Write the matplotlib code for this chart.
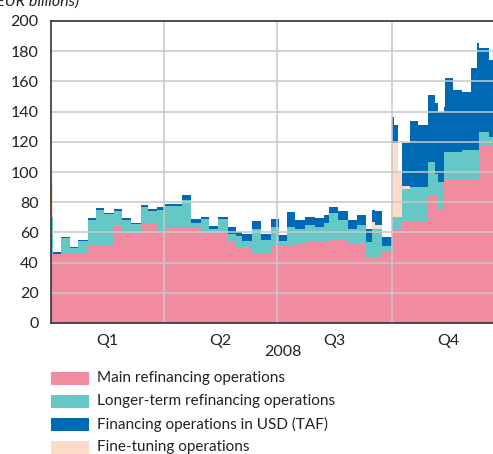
import matplotlib
matplotlib.use("Agg")
import matplotlib.pyplot as plt
from matplotlib.patches import Rectangle
import numpy as np

plt.rcParams["font.family"] = ["Lato", "DejaVu Sans"]

# step changes: day of 2008 (0 = 1 Jan) and outstanding amounts, EUR billions
day = [0, 2, 8, 15, 22, 30, 36, 43, 51, 57, 64, 72, 78, 85, 92, 105, 113, 121,
       127, 134, 142, 149, 154, 162, 169, 177, 183, 190, 196, 204, 212, 220,
       224, 231, 239, 246, 253, 258, 261, 266, 274, 276, 279, 282, 289, 295,
       303, 309, 311, 316, 317, 323, 331, 338, 343, 344, 352]
mro = [46, 45.5, 46, 46, 46, 51, 51, 51, 65, 59.5, 59.5, 65.5, 65.5, 60, 63, 63,
       63, 60, 60, 60, 54, 49.4, 49.4, 46.6, 46.6, 51.7, 51.7, 51.7, 53, 53.6,
       54, 54.5, 55, 55, 53, 53, 44, 44, 44, 47, 62, 62, 62, 67, 67, 67, 84.8,
       84.8, 74.8, 94.7, 94.7, 94.7, 94.7, 94.7, 94.7, 118, 118]
ltro = [24, 0, 10, 3.5, 8, 17.5, 24, 21, 9.5, 9, 6, 11.5, 9, 15, 14.5, 18.5,
        3.5, 9, 2, 8.7, 5, 8, 4.6, 15.4, 8.4, 12, 2.3, 12, 9, 11.3, 9.8, 11.5,
        17.6, 13, 9, 12, 9.6, 18, 18, 4, 8.4, 8.4, 8.4, 22, 23, 23, 22, 14,
        18.8, 18.3, 18.3, 18.3, 20, 20, 20, 8.7, 5.4]
fto = [23, 0, 0, 0, 0, 0, 0, 0, 0, 0, 0, 0, 0, 0, 0, 0, 0, 0, 0, 0, 0, 0, 0, 0,
       0, 0, 0, 0, 0, 0, 0, 0, 0, 0, 0, 0, 0, 5, 3, 0, 48.6, 48.6, 29.6, 2, 0,
       0, 0, 0, 0, 0, 0, 0, 0, 0, 0, 0, 0]
usd = [0, 1.5, 1, 1, 1, 1, 1, 1, 1, 1, 1, 1, 1, 1.5, 1.5, 3.5, 2.2, 1.4, 2,
       1.7, 4.8, 3, 5, 5.8, 4, 5.5, 4.3, 9.5, 6.2, 5.5, 5.5, 5.5, 4.4, 6, 6,
       6.5, 8.5, 8, 9, 6, 17.6, 12, 0, 28, 44, 41, 44.2, 46.8, 46.4, 30, 49, 41,
       38.3, 54, 71, 55.3, 50.6]

quarters = ["Q1", "Q2", "Q3", "Q4"]
quarter_start = [0, 91, 182, 274, 366]
series = [("Main refinancing operations", mro, "#F08BA0"),
          ("Longer-term refinancing operations", ltro, "#65C8C6"),
          ("Fine-tuning operations", fto, "#FCDCC8"),
          ("Financing operations in USD (TAF)", usd, "#0069B4")]
legend_order = [0, 1, 3, 2]

fig = plt.figure(figsize=(4.93, 4.54), dpi=100)
ax = fig.add_axes([51 / 493, 131 / 454, 455 / 493, 302 / 454])

x = np.array(day + [366])
lower = np.zeros(len(x))
for name, vals, col in series:
    v = np.array(vals + [vals[-1]], dtype=float)
    ax.fill_between(x, lower, lower + v, step="post", color=col, lw=0, zorder=1)
    lower = lower + v

ax.set_xlim(0, 366)
ax.set_ylim(0, 200)
ax.set_yticks(range(0, 201, 20))
ax.set_yticklabels([str(t) for t in range(0, 201, 20)], fontsize=11.5, color="#222222")
mids = [(a + b) / 2 for a, b in zip(quarter_start[:-1], quarter_start[1:])]
ax.set_xticks(mids)
ax.set_xticklabels(quarters, fontsize=11.5, color="#222222")
ax.tick_params(length=0, pad=8)
ax.tick_params(axis="y", pad=9)

for t in range(20, 201, 20):
    ax.axhline(t, color="#c8c8c8", lw=1.3, alpha=0.85, zorder=2)
for q in quarter_start[1:4]:
    ax.axvline(q, color="#c8c8c8", lw=1.3, alpha=0.85, zorder=2)

for s in ["left", "bottom", "top"]:
    ax.spines[s].set_color("#333333")
    ax.spines[s].set_linewidth(1.2)
    ax.spines[s].set_zorder(3)
ax.spines["right"].set_visible(False)

fig.text(283 / 493, 1 - 352 / 454, "2008", ha="center", va="center",
         fontsize=11.5, color="#222222")
# unit label, clipped by the top edge as in the source
fig.text(-8 / 493, 1 - 9 / 454, "(EUR billions)", ha="left", va="bottom",
         fontsize=11.5, style="italic", color="#222222")

# legend drawn by hand to match the reference layout
for row, i in enumerate(legend_order):
    name, _, col = series[i]
    yc = 378 + row * 23
    fig.add_artist(Rectangle((51 / 493, 1 - (yc + 6.5) / 454), 38 / 493, 13 / 454,
                             transform=fig.transFigure, color=col, lw=0))
    fig.text(97 / 493, 1 - yc / 454, name, ha="left", va="center",
             fontsize=11, color="#222222")

fig.savefig("out.png", dpi=100)
